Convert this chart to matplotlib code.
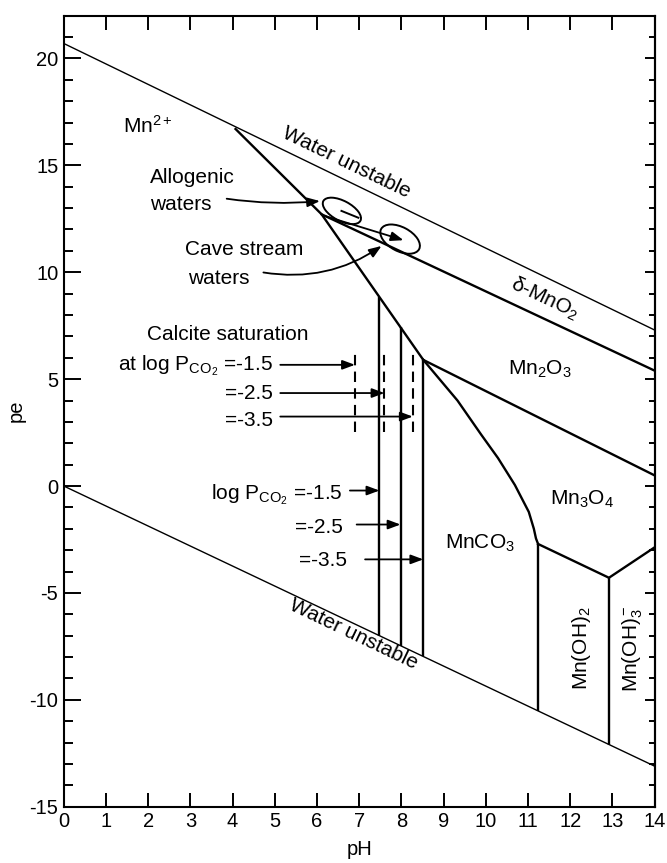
import numpy as np
import matplotlib
matplotlib.use("Agg")
import matplotlib.pyplot as plt
from matplotlib.patches import Ellipse
from matplotlib.transforms import ScaledTranslation
from matplotlib.ticker import MultipleLocator, NullFormatter

plt.rcParams['font.family'] = ['Liberation Sans', 'DejaVu Sans']
plt.rcParams['mathtext.fontset'] = 'custom'
plt.rcParams['mathtext.rm'] = 'Liberation Sans'
plt.rcParams['mathtext.it'] = 'Liberation Sans:italic'
plt.rcParams['mathtext.bf'] = 'Liberation Sans:bold'
plt.rcParams['axes.unicode_minus'] = False

# --- stability limits of water ---
water_ph = [0.0, 14.0]
water_upper_pe = [20.7, 7.3]
water_lower_pe = [0.0, -13.1]

# --- Mn2+ upper boundary (against delta-MnO2, then Mn2O3) ---
mn2_ph = [4.07, 6.11, 8.52]
mn2_pe = [16.7, 12.71, 5.9]

# --- delta-MnO2 / Mn2O3 ---
mno2_ph = [6.11, 14.0]
mno2_pe = [12.71, 5.4]

# --- Mn2O3 / Mn3O4 ---
mn2o3_ph = [8.52, 14.0]
mn2o3_pe = [5.9, 0.5]

# --- MnCO3 / Mn3O4 ---
mnco3_ph = [8.52, 9.33, 9.89, 10.29, 10.69, 11.02, 11.14, 11.19, 11.24]
mnco3_pe = [5.9, 4.0, 2.41, 1.31, 0.05, -1.21, -2.0, -2.45, -2.71]

# --- Mn3O4 / Mn(OH)2 and Mn3O4 / Mn(OH)3- ---
mn3o4_ph = [11.24, 12.92, 14.0]
mn3o4_pe = [-2.71, -4.29, -2.87]

# --- vertical boundaries ---
mnco3_limit_ph = [7.48, 7.98, 8.52]      # log PCO2 = -1.5, -2.5, -3.5
hydroxide_ph = [11.24, 12.92]            # Mn(OH)2, Mn(OH)3-
calcite_ph = [6.9, 7.6, 8.27]            # calcite saturation, same PCO2 values
calcite_pe_span = [2.51, 6.41]

# --- arrows pointing at the PCO2 lines ---
calcite_arrow_pe = [5.67, 4.35, 3.25]
calcite_arrow_tail = 5.13
mnco3_arrow_pe = [-0.21, -1.8, -3.43]
mnco3_arrow_tail = [6.78, 6.94, 7.14]
pco2_labels = ['=-1.5', '=-2.5', '=-3.5']

# --- water samples (pH, pe) ---
allogenic = (6.59, 12.87)
cave_stream = (7.97, 11.55)

dpi = 100
fig = plt.figure(figsize=(6.67, 8.63), dpi=dpi)
ax = fig.add_axes([0.0957, 0.0652, 0.8856, 0.9166])
ax.set_xlim(0, 14)
ax.set_ylim(-15, 22)

thin = 1.0
thick = 1.7

ax.plot(water_ph, water_upper_pe, color='black', lw=thin)
ax.plot(water_ph, water_lower_pe, color='black', lw=thin)
ax.plot(mn2_ph, mn2_pe, color='black', lw=thick)
ax.plot(mno2_ph, mno2_pe, color='black', lw=thick)
ax.plot(mn2o3_ph, mn2o3_pe, color='black', lw=thick)
ax.plot(mnco3_ph, mnco3_pe, color='black', lw=thick)
ax.plot(mn3o4_ph, mn3o4_pe, color='black', lw=thick)

tops = np.interp(mnco3_limit_ph, mn2_ph, mn2_pe)
bottoms = np.interp(mnco3_limit_ph, water_ph, water_lower_pe)
ax.vlines(mnco3_limit_ph, bottoms, tops, color='black', lw=thick)

htops = np.interp(hydroxide_ph, mn3o4_ph, mn3o4_pe)
hbottoms = np.interp(hydroxide_ph, water_ph, water_lower_pe)
ax.vlines(hydroxide_ph, hbottoms, htops, color='black', lw=thick)

ax.vlines(calcite_ph, calcite_pe_span[0], calcite_pe_span[1], color='black',
          lw=1.5, linestyles=(0, (5, 3)))

arrow_kw = dict(arrowstyle='-|>,head_length=0.75,head_width=0.28',
                color='black', lw=1.3, shrinkA=0, shrinkB=0, mutation_scale=10)

for x_head, y in zip(calcite_ph, calcite_arrow_pe):
    ax.annotate('', xy=(x_head, y), xytext=(calcite_arrow_tail, y), arrowprops=arrow_kw)
for x_head, x_tail, y in zip(mnco3_limit_ph, mnco3_arrow_tail, mnco3_arrow_pe):
    ax.annotate('', xy=(x_head, y), xytext=(x_tail, y), arrowprops=arrow_kw)


def oval(center, w_px, h_px, angle):
    tr = fig.dpi_scale_trans + ScaledTranslation(center[0], center[1], ax.transData)
    ax.add_patch(Ellipse((0, 0), w_px / dpi, h_px / dpi, angle=angle, fill=False,
                         lw=1.4, color='black', transform=tr))


oval(allogenic, 42, 20, -28)
oval(cave_stream, 43, 24, -28)
ax.plot([6.58, 6.98], [12.87, 12.55], color='black', lw=1.4)
ax.annotate('', xy=(8.05, 11.5), xytext=(6.19, 12.63), arrowprops=arrow_kw)

ax.annotate('', xy=(6.07, 13.33), xytext=(3.86, 13.44),
            arrowprops=dict(arrow_kw, connectionstyle='arc3,rad=0.06'))
ax.annotate('', xy=(7.53, 11.23), xytext=(4.73, 9.99),
            arrowprops=dict(arrow_kw, connectionstyle='arc3,rad=0.2'))

fs = 15
ax.text(1.41, 16.53, 'Mn$^{2+}$', fontsize=fs, va='baseline')
ax.text(2.04, 14.19, 'Allogenic', fontsize=fs, va='baseline')
ax.text(2.04, 12.9, 'waters', fontsize=fs, va='baseline')
ax.text(2.87, 10.81, 'Cave stream', fontsize=fs, va='baseline')
ax.text(2.95, 9.47, 'waters', fontsize=fs, va='baseline')
ax.text(1.97, 6.83, 'Calcite saturation', fontsize=fs, va='baseline')
ax.text(4.95, 5.39, 'at log P$_{\\mathrm{CO}_2}$ ' + pco2_labels[0], fontsize=fs,
        va='baseline', ha='right')
ax.text(4.95, 4.07, pco2_labels[1], fontsize=fs, va='baseline', ha='right')
ax.text(4.95, 2.83, pco2_labels[2], fontsize=fs, va='baseline', ha='right')
ax.text(6.6, -0.62, 'log P$_{\\mathrm{CO}_2}$ ' + pco2_labels[0], fontsize=fs,
        va='baseline', ha='right')
ax.text(6.62, -2.19, pco2_labels[1], fontsize=fs, va='baseline', ha='right')
ax.text(6.71, -3.76, pco2_labels[2], fontsize=fs, va='baseline', ha='right')

ax.text(6.7, 15.13, 'Water unstable', fontsize=fs, rotation=-25.8,
        ha='center', va='center', rotation_mode='anchor')
ax.text(6.87, -6.92, 'Water unstable', fontsize=fs, rotation=-25.5,
        ha='center', va='center', rotation_mode='anchor')
ax.text(11.4, 8.78, '\u03b4-MnO$_2$', fontsize=fs, rotation=-25.2,
        ha='center', va='center', rotation_mode='anchor')
ax.text(11.29, 5.44, 'Mn$_2$O$_3$', fontsize=fs, ha='center', va='center')
ax.text(12.27, -0.63, 'Mn$_3$O$_4$', fontsize=fs, ha='center', va='center')
ax.text(9.86, -2.69, 'MnCO$_3$', fontsize=fs, ha='center', va='center')
ax.text(12.26, -7.6, 'Mn(OH)$_2$', fontsize=fs, ha='center', va='center', rotation=90)
ax.text(13.48, -7.6, 'Mn(OH)$_3^-$', fontsize=fs, ha='center', va='center', rotation=90)

# axes styling
for sp in ax.spines.values():
    sp.set_linewidth(1.5)
ax.xaxis.set_major_locator(MultipleLocator(1))
ax.yaxis.set_major_locator(MultipleLocator(5))
ax.yaxis.set_minor_locator(MultipleLocator(1))
ax.tick_params(axis='x', which='major', direction='in', length=10, width=1.4,
               top=True, labelsize=14.5, pad=4)
ax.tick_params(axis='y', which='major', direction='in', length=12, width=1.4,
               labelsize=14.5, pad=4)
ax.tick_params(axis='y', which='minor', direction='in', length=6.5, width=1.4)

sec = ax.secondary_yaxis('right')
sec.yaxis.set_major_locator(MultipleLocator(5))
sec.yaxis.set_minor_locator(MultipleLocator(1))
sec.yaxis.set_major_formatter(NullFormatter())
sec.tick_params(which='major', direction='in', length=7, width=1.4)
sec.tick_params(which='minor', direction='in', length=4.5, width=1.4)
sec.spines['right'].set_linewidth(1.5)

ax.set_xlabel('pH', fontsize=14.5, labelpad=6)
ax.set_ylabel('pe', fontsize=14.5, labelpad=3)

fig.savefig('out.png', dpi=dpi)
